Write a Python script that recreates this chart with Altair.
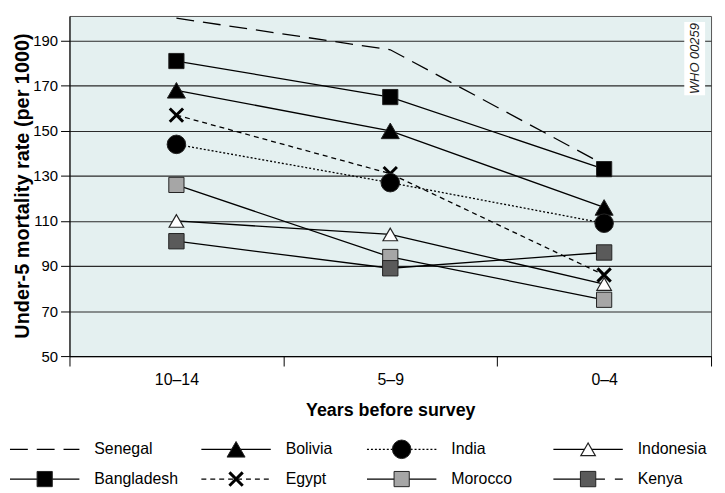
import altair as alt
import pandas as pd

# ---------------- data ----------------
periods = ["10–14", "5–9", "0–4"]
countries = ["Senegal", "Bangladesh", "Bolivia", "Egypt", "India", "Morocco", "Indonesia", "Kenya"]
senegal = [200, 186, 135]
bangladesh = [181, 165, 133]
bolivia = [168, 150, 116]
egypt = [157, 131, 86]
india = [144, 127, 109]
morocco = [126, 94, 75]
indonesia = [110, 104, 82]
kenya = [101, 89, 96]
y_ticks = [50, 70, 90, 110, 130, 150, 170, 190]
legend_order = ["Senegal", "Bolivia", "India", "Indonesia",
                "Bangladesh", "Egypt", "Morocco", "Kenya"]

series = {
    "Senegal": senegal, "Bangladesh": bangladesh, "Bolivia": bolivia,
    "Egypt": egypt, "India": india, "Morocco": morocco,
    "Indonesia": indonesia, "Kenya": kenya,
}
df = pd.DataFrame([
    {"country": c, "period": p, "rate": v}
    for c in countries for p, v in zip(periods, series[c])
])
leg = pd.DataFrame({
    "country": legend_order,
    "col": [i % 4 for i in range(len(legend_order))],
    "row": [i // 4 for i in range(len(legend_order))],
})

# ---------------- styles ----------------
FONT = "Liberation Sans"
X_PATH = "M-1,-1L1,1M1,-1L-1,1"
styles = {
    "Senegal":    dict(dash=[18, 9], shape=None),
    "Bangladesh": dict(dash=None, shape="square", fill="black", size=235, sw=1),
    "Bolivia":    dict(dash=None, shape="triangle-up", fill="black", size=330, sw=1),
    "Egypt":      dict(dash=[5, 4], shape=X_PATH, fill=None, size=180, sw=3),
    "India":      dict(dash=[2, 2], shape="circle", fill="black", size=350, sw=1),
    "Morocco":    dict(dash=None, shape="square", fill="#a6a6a6", size=235, sw=1),
    "Indonesia":  dict(dash=None, shape="triangle-up", fill="white", size=215, sw=1.2),
    "Kenya":      dict(dash=None, shape="square", fill="#5a5a5a", size=240, sw=1),
}

x_enc = alt.X(
    "period:N", sort=periods,
    scale=alt.Scale(type="band", paddingInner=0, paddingOuter=0),
    axis=alt.Axis(
        tickBand="extent", tickSize=10, tickColor="black", domainColor="black",
        labelAngle=0, labelPadding=6, labelFontSize=16, labelFont=FONT,
        title="Years before survey", titleFontSize=18, titleFontWeight="bold",
        titleFont=FONT, titleBaseline="middle", titleY=55, grid=False,
    ),
)
y_enc = alt.Y(
    "rate:Q",
    scale=alt.Scale(domain=[50, 201], nice=False, zero=False),
    axis=alt.Axis(
        values=y_ticks, tickSize=9, tickColor="black", domainColor="black",
        labelPadding=3, labelFontSize=15, labelFont=FONT,
        grid=True, gridColor="#2a2a2a", gridWidth=1.2,
        title="Under-5 mortality rate (per 1000)", titleFontSize=20,
        titleFontWeight="bold", titleFont=FONT, titleAngle=270,
        titleX=-37, titleY=171,
    ),
)

main_layers = []
base = alt.Chart(df)
for c in countries:
    st = styles[c]
    kw = dict(color="black", strokeWidth=1.3)
    if st["dash"]:
        kw["strokeDash"] = st["dash"]
    main_layers.append(
        base.mark_line(**kw).encode(x=x_enc, y=y_enc)
        .transform_filter(alt.datum.country == c)
    )

# WHO code label
one = alt.Data(values=[{"k": 1}])
main_layers.append(
    alt.Chart(one).mark_rect(fill="white").encode(
        x=alt.value(620), x2=alt.value(641), y=alt.value(6), y2=alt.value(80))
)
main_layers.append(
    alt.Chart(one).mark_text(
        text="WHO 00259", angle=270, font=FONT, fontStyle="italic",
        fontSize=13, color="#222", align="center", baseline="middle",
    ).encode(x=alt.value(631), y=alt.value(43))
)

def point_mark(st):
    if st["fill"] is None:
        return dict(shape=st["shape"], filled=False, stroke="black",
                    strokeWidth=st["sw"], size=st["size"], opacity=1)
    return dict(shape=st["shape"], filled=True, fill=st["fill"], stroke="#222",
                strokeWidth=st["sw"], size=st["size"], opacity=1)

for c in countries:
    st = styles[c]
    if st["shape"] is None:
        continue
    main_layers.append(
        base.mark_point(**point_mark(st)).encode(x=x_enc, y=y_enc)
        .transform_filter(alt.datum.country == c)
    )

main = alt.layer(*main_layers)

# ---------------- legend ----------------
lx = alt.X("col:Q", scale=alt.Scale(domain=[0, 1, 2, 3], range=[-60, 133, 300, 488],
                                     nice=False, zero=False), axis=None)
ly = alt.Y("row:Q", scale=alt.Scale(domain=[0, 1], range=[437, 467],
                                     nice=False, zero=False), axis=None)
lbase = alt.Chart(leg)
legend_layers = []
for c in legend_order:
    st = styles[c]
    if c == "Kenya":
        # solid on the left of the symbol, dashed on the right, as in the key
        legend_layers.append(
            lbase.mark_rule(color="black", strokeWidth=1.3, x2Offset=35)
            .encode(x=lx, x2=alt.X2("col"), y=ly)
            .transform_filter(alt.datum.country == c)
        )
        legend_layers.append(
            lbase.mark_rule(color="black", strokeWidth=1.3, xOffset=35, x2Offset=70,
                            strokeDash=[17, 10])
            .encode(x=lx, x2=alt.X2("col"), y=ly)
            .transform_filter(alt.datum.country == c)
        )
        continue
    kw = dict(color="black", strokeWidth=1.3, x2Offset=70)
    if st["dash"]:
        kw["strokeDash"] = st["dash"]
    legend_layers.append(
        lbase.mark_rule(**kw).encode(x=lx, x2=alt.X2("col"), y=ly)
        .transform_filter(alt.datum.country == c)
    )
for c in legend_order:
    st = styles[c]
    if st["shape"] is None:
        continue
    legend_layers.append(
        lbase.mark_point(xOffset=35, **point_mark(st)).encode(x=lx, y=ly)
        .transform_filter(alt.datum.country == c)
    )
legend_layers.append(
    lbase.mark_text(align="left", baseline="middle", dx=85, font=FONT,
                    fontSize=16, color="black")
    .encode(x=lx, y=ly, text="country:N")
)
legend = alt.layer(*legend_layers)

chart = (
    alt.layer(main, legend)
    .resolve_scale(x="independent", y="independent")
    .properties(
        width=647, height=343,
        autosize=alt.AutoSizeParams(type="none"),
        padding={"left": 62, "top": 6, "right": 6, "bottom": 134},
    )
    .configure_view(fill="#e4f0f0", stroke="#555", strokeWidth=1)
    .configure_axis(labelColor="black", titleColor="black")
)

chart.save("out.html", embed_options={"renderer": "svg", "actions": False})
